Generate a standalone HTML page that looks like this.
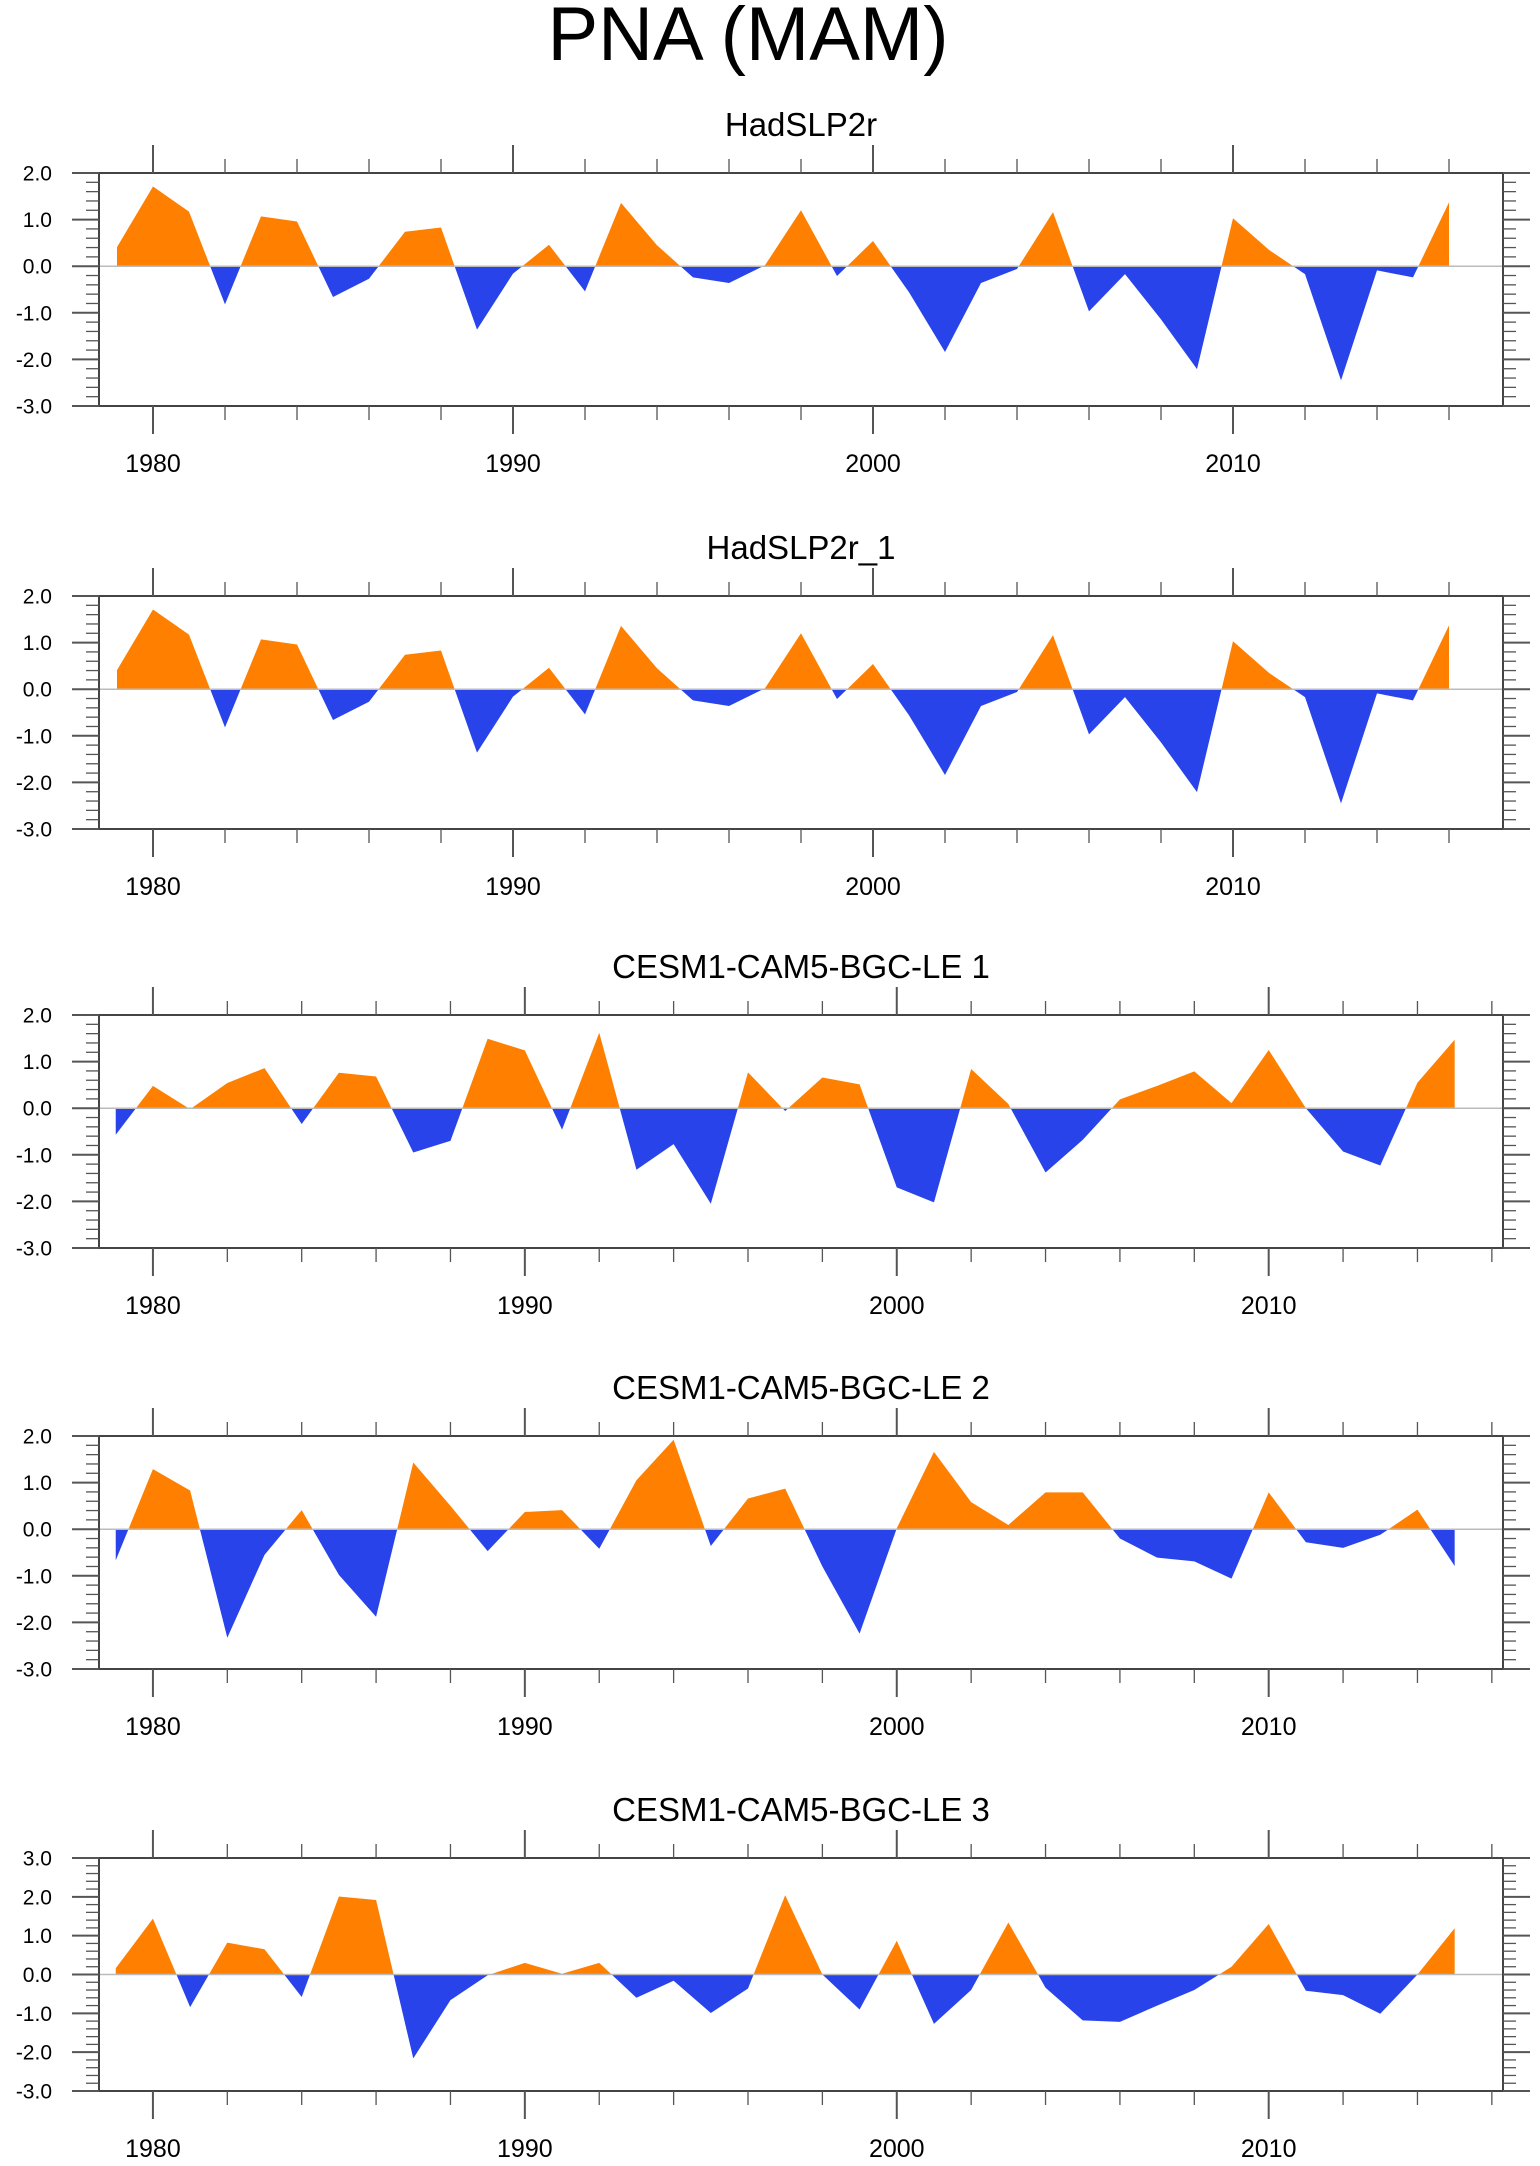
<!DOCTYPE html>
<html><head><meta charset="utf-8"><style>
html,body{margin:0;padding:0;background:#fff;}
svg{display:block;font-family:"Liberation Sans",sans-serif;}
</style></head><body>
<svg id="fig" width="1540" height="2166" viewBox="0 0 1540 2166">
<text x="748" y="60" font-size="76" text-anchor="middle">PNA (MAM)</text>
</svg>
<script>
const years1 = [1979,1980,1981,1982,1983,1984,1985,1986,1987,1988,1989,1990,1991,1992,1993,1994,1995,1996,1997,1998,1999,2000,2001,2002,2003,2004,2005,2006,2007,2008,2009,2010,2011,2012,2013,2014,2015,2016];
const years2 = [1979,1980,1981,1982,1983,1984,1985,1986,1987,1988,1989,1990,1991,1992,1993,1994,1995,1996,1997,1998,1999,2000,2001,2002,2003,2004,2005,2006,2007,2008,2009,2010,2011,2012,2013,2014,2015];
const hadValues = [0.41,1.71,1.17,-0.82,1.07,0.96,-0.66,-0.27,0.74,0.83,-1.36,-0.16,0.46,-0.54,1.36,0.45,-0.24,-0.36,0.02,1.2,-0.21,0.54,-0.56,-1.84,-0.36,-0.06,1.16,-0.97,-0.17,-1.14,-2.21,1.03,0.35,-0.17,-2.45,-0.09,-0.24,1.37];
const le1Values = [-0.57,0.48,-0.02,0.54,0.86,-0.34,0.76,0.68,-0.95,-0.70,1.49,1.24,-0.46,1.62,-1.32,-0.77,-2.05,0.77,-0.06,0.66,0.51,-1.70,-2.02,0.84,0.09,-1.38,-0.68,0.19,0.48,0.79,0.11,1.25,0.0,-0.93,-1.23,0.55,1.47];
const le2Values = [-0.67,1.29,0.83,-2.33,-0.55,0.41,-0.98,-1.88,1.43,0.5,-0.47,0.37,0.41,-0.42,1.05,1.92,-0.36,0.66,0.87,-0.8,-2.24,0.02,1.66,0.58,0.09,0.79,0.79,-0.2,-0.61,-0.69,-1.06,0.79,-0.28,-0.4,-0.12,0.42,-0.79];
const le3Values = [0.16,1.44,-0.84,0.82,0.65,-0.58,2.01,1.92,-2.16,-0.66,-0.02,0.30,0.02,0.30,-0.6,-0.16,-0.99,-0.36,2.04,0.0,-0.9,0.87,-1.27,-0.4,1.34,-0.34,-1.18,-1.22,-0.8,-0.4,0.2,1.30,-0.42,-0.53,-1.01,0.0,1.19];
const yTicks4 = [2,1,0,-1,-2,-3];
const yTicks5 = [3,2,1,0,-1,-2,-3];
const xTickLabels = [1980,1990,2000,2010];
const panelTitles = ["HadSLP2r","HadSLP2r_1","CESM1-CAM5-BGC-LE 1","CESM1-CAM5-BGC-LE 2","CESM1-CAM5-BGC-LE 3"];

const NS="http://www.w3.org/2000/svg";
const svg=document.getElementById('fig');
function mk(tag,attrs,parent){const e=document.createElementNS(NS,tag);for(const k in attrs)e.setAttribute(k,attrs[k]);(parent||svg).appendChild(e);return e;}

const panels=[
 {top:173,years:years1,vals:hadValues,x0:1978.5,x1:2017.5,ymax:2,ymin:-3,ticks:yTicks4},
 {top:596,years:years1,vals:hadValues,x0:1978.5,x1:2017.5,ymax:2,ymin:-3,ticks:yTicks4},
 {top:1015,years:years2,vals:le1Values,x0:1978.55,x1:2016.3,ymax:2,ymin:-3,ticks:yTicks4},
 {top:1436,years:years2,vals:le2Values,x0:1978.55,x1:2016.3,ymax:2,ymin:-3,ticks:yTicks4},
 {top:1858,years:years2,vals:le3Values,x0:1978.55,x1:2016.3,ymax:3,ymin:-3,ticks:yTicks5}
];
const L=99,R=1503,H=233;
panels.forEach((p,pi)=>{
  const g=mk('g',{});
  
  
  const T=p.top,B=T+H;
  const xs=v=>L+(v-p.x0)/(p.x1-p.x0)*(R-L);
  const ys=v=>T+(p.ymax-v)/(p.ymax-p.ymin)*H;
  const t=mk('text',{x:801,y:T-37,'font-size':33,'text-anchor':'middle'},g);
  t.textContent=panelTitles[pi];
  
  
  const y0=ys(0);
  let pos='',neg='';
  for(let i=0;i<p.vals.length-1;i++){
    const xa=xs(p.years[i]),xb=xs(p.years[i+1]),va=p.vals[i],vb=p.vals[i+1];
    const seg=(xa,va,xb,vb)=>{
      const path=`M${xa},${y0}L${xa},${ys(va)}L${xb},${ys(vb)}L${xb},${y0}Z`;
      if(va+vb>=0)pos+=path;else neg+=path;
    };
    if(va*vb<0){const xc=xa+(xb-xa)*va/(va-vb);seg(xa,va,xc,0);seg(xc,0,xb,vb);}
    else seg(xa,va,xb,vb);
  }
  const fp=mk('path',{d:pos,fill:'#ff8000'},g);
  
  
  const fn=mk('path',{d:neg,fill:'#2843ea'},g);
  
  
  const zl=mk('line',{x1:L,x2:R,y1:y0,y2:y0,stroke:'#bbb','stroke-width':1.5},g);
  
  
  const fr=mk('rect',{x:L,y:T,width:R-L,height:H,fill:'none',stroke:'#444','stroke-width':2},g);
  
  
  for(let v=p.ymin;v<=p.ymax+1e-6;v+=0.2){
    const vv=Math.round(v*10)/10;const y=ys(vv);
    const major=Math.abs(vv-Math.round(vv))<1e-6;
    const len=major?27:13;
    mk('line',{x1:L-len,x2:L,y1:y,y2:y,stroke:'#555','stroke-width':major?2:1.3},g);
    mk('line',{x1:R,x2:R+len,y1:y,y2:y,stroke:'#555','stroke-width':major?2:1.3},g);
  }
  p.ticks.forEach(v=>{
    const lt=mk('text',{x:52,y:ys(v)+7.5,'font-size':21,'text-anchor':'end'},g);
    lt.textContent=v.toFixed(1);
    
    
  });
  for(let yr=1980;yr<=2016;yr+=2){
    const x=xs(yr);if(x>R)continue;
    const major=yr%10===0;const len=major?28:14;
    mk('line',{x1:x,x2:x,y1:T-len,y2:T,stroke:'#555','stroke-width':major?2:1.3},g);
    mk('line',{x1:x,x2:x,y1:B,y2:B+len,stroke:'#555','stroke-width':major?2:1.3},g);
  }
  xTickLabels.forEach(yr=>{
    const xt=mk('text',{x:xs(yr),y:B+66,'font-size':25,'text-anchor':'middle'},g);
    xt.textContent=yr;
    
    
  });
});
</script>
</body></html>
